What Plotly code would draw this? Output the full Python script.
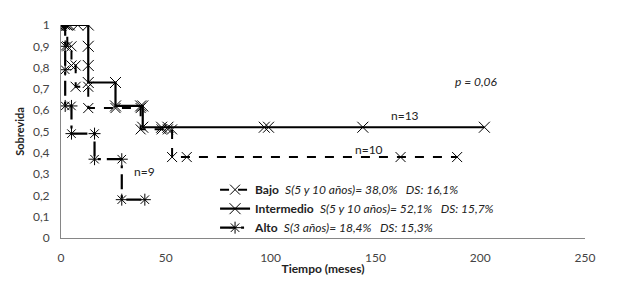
import plotly.graph_objects as go

# Kaplan-Meier style step data (x in months, y survival)
bajo_x = [0, 2, 3, 3, 5, 5, 7, 7, 13, 13, 26, 38, 38, 48, 51, 53, 53, 60, 162, 189]
bajo_y = [1, 1, 1, 0.9, 0.9, 0.81, 0.81, 0.71, 0.71, 0.61, 0.61, 0.61, 0.51, 0.51, 0.51, 0.51, 0.38, 0.38, 0.38, 0.38]

inter_x = [0, 3, 4, 8, 13, 13, 13, 13, 26, 26, 38, 39, 39, 48, 51, 97, 99, 144, 202]
inter_y = [1, 1, 1, 1, 1, 0.9, 0.81, 0.73, 0.73, 0.62, 0.62, 0.62, 0.52, 0.52, 0.52, 0.52, 0.52, 0.52, 0.52]

alto_x = [0, 1, 2, 2, 2, 2, 5, 5, 16, 16, 29, 29, 40]
alto_y = [1, 1, 1, 0.9, 0.79, 0.62, 0.62, 0.49, 0.49, 0.37, 0.37, 0.18, 0.18]

series_names = ["<b>Bajo</b>  <i>S(5 y 10 años)= 38,0%\u00a0\u00a0\u00a0DS: 16,1%</i>",
                "<b>Intermedio</b>  <i>S(5 y 10 años)= 52,1%\u00a0\u00a0\u00a0DS: 15,7%</i>",
                "<b>Alto</b>  <i>S(3 años)= 18,4%\u00a0\u00a0\u00a0DS: 15,3%</i>"]

x_ticks = [0, 50, 100, 150, 200, 250]
y_ticks = [0, 0.1, 0.2, 0.3, 0.4, 0.5, 0.6, 0.7, 0.8, 0.9, 1]

fig = go.Figure()
fig.add_trace(go.Scatter(x=bajo_x, y=bajo_y, mode="lines+markers", name=series_names[0],
                         line=dict(color="black", width=2, dash="dash"),
                         marker=dict(symbol="x-thin-open", size=10, color="black", line=dict(width=1, color="black"))))
fig.add_trace(go.Scatter(x=inter_x, y=inter_y, mode="lines+markers", name=series_names[1],
                         line=dict(color="black", width=2.2, dash="solid"),
                         marker=dict(symbol="x-thin-open", size=11, color="black", line=dict(width=1, color="black"))))
fig.add_trace(go.Scatter(x=alto_x, y=alto_y, mode="lines+markers", name=series_names[2],
                         line=dict(color="black", width=2.2, dash="longdashdot"),
                         marker=dict(symbol="asterisk-open", size=10, color="black", line=dict(width=1, color="black"))))

font_family = "Lato, Open Sans, sans-serif"
annotations = [
    dict(x=198, y=0.735, text="<i>p = 0,06</i>", showarrow=False, font=dict(size=12, color="#222")),
    dict(x=164, y=0.575, text="n=13", showarrow=False, font=dict(size=12, color="#222")),
    dict(x=147, y=0.415, text="n=10", showarrow=False, font=dict(size=12, color="#222")),
    dict(x=40, y=0.31, text="n=9", showarrow=False, font=dict(size=12, color="#222")),
]

# page body has an 8px margin, so the figure is sized to fit inside the window
fig.update_layout(
    width=602, height=275,
    margin=dict(l=53, r=25, t=17, b=45),
    paper_bgcolor="white", plot_bgcolor="white",
    separators=",.",
    font=dict(family=font_family, size=11, color="#333"),
    showlegend=True,
    legend=dict(x=0.294, y=0.295, xanchor="left", yanchor="top", bgcolor="rgba(255,255,255,0)",
                font=dict(size=12, color="#222"), tracegroupgap=0, itemwidth=30),
    annotations=annotations,
    xaxis=dict(range=[0, 250], tickvals=x_ticks, showgrid=False, zeroline=False, automargin=False,
               showline=True, linecolor="#868686", linewidth=1, ticks="outside", ticklen=9, tickcolor="rgba(0,0,0,0)",
               title=dict(text="<b>Tiempo (meses)</b>", font=dict(size=12, color="#222"), standoff=0),
               tickfont=dict(size=12, color="#444")),
    yaxis=dict(range=[0, 1.0], tickvals=y_ticks, showgrid=False, zeroline=False, automargin=False,
               showline=True, linecolor="#868686", linewidth=1, ticks="outside", ticklen=8, tickcolor="rgba(0,0,0,0)",
               title=dict(text="<b>Sobrevida</b>", font=dict(size=11, color="#222"), standoff=6),
               tickfont=dict(size=12, color="#444")),
)

fig.write_html("out.html")
